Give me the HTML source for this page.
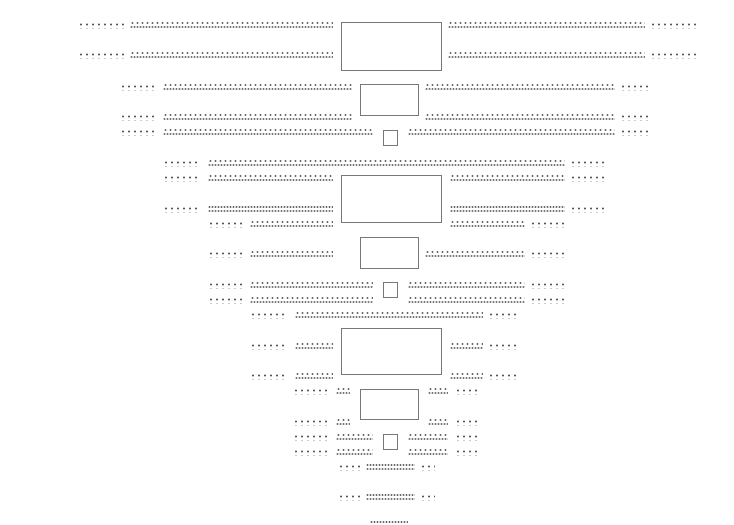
<!DOCTYPE html>
<html><head><meta charset="utf-8"><style>
html,body{margin:0;padding:0;background:#fff;width:734px;height:525px;overflow:hidden;position:relative;font-family:"Liberation Sans",sans-serif}
.c,.d,.e{position:absolute;height:7px}
.c{background:
 radial-gradient(circle,#555 0.9px,transparent 1.1px) 0 0/6px 5px repeat;}
.d{background:
 radial-gradient(circle,#666 0.8px,transparent 1px) 0 -1px/5px 4px repeat-x,
 radial-gradient(circle,#777 0.9px,transparent 1.1px) 0 3px/3px 4px repeat-x;}
.e{background:
 radial-gradient(circle,#666 0.8px,transparent 1px) 0 -1px/3px 4px repeat-x,
 radial-gradient(circle,#777 0.9px,transparent 1.1px) 0 3px/3px 4px repeat-x;}
.b{position:absolute;border:1px solid #777;box-sizing:border-box;background:#fff}
</style></head><body>
<script>
var rows=[
[22,[['c',78,125],['d',130,333],['d',448,645],['c',650,698]]],
[52,[['c',78,125],['d',130,333],['d',448,645],['c',650,698]]],
[84,[['c',120,155],['d',163,352],['d',425,615],['c',620,650]]],
[114,[['c',120,155],['d',163,352],['d',425,615],['c',620,650]]],
[129,[['c',120,155],['d',163,373],['d',408,615],['c',620,650]]],
[160,[['c',163,200],['d',208,565],['c',570,608]]],
[175,[['c',163,200],['d',208,333],['d',450,565],['c',570,608]]],
[206,[['c',163,200],['e',208,333],['e',450,565],['c',570,608]]],
[221,[['c',208,243],['d',250,333],['d',450,525],['c',530,565]]],
[251,[['c',208,243],['d',250,333],['d',425,525],['c',530,565]]],
[282,[['c',208,243],['d',250,373],['d',408,525],['c',530,565]]],
[297,[['c',208,243],['d',250,373],['d',408,525],['c',530,565]]],
[312,[['c',250,287],['d',295,483],['c',488,520]]],
[343,[['c',250,287],['d',295,333],['d',450,483],['c',488,520]]],
[373,[['c',250,287],['d',295,333],['d',450,483],['c',488,520]]],
[388,[['c',293,330],['d',336,350],['d',428,448],['c',455,478]]],
[419,[['c',293,330],['d',336,350],['d',428,448],['c',455,478]]],
[434,[['c',293,330],['d',336,373],['d',408,448],['c',455,478]]],
[449,[['c',293,330],['d',336,373],['d',408,448],['c',455,478]]],
[464,[['c',338,360],['e',366,415],['c',420,435]]],
[494,[['c',338,360],['e',366,415],['c',420,435]]],
[521,[['e',370,408]]]
];
var h='';
rows.forEach(function(r){r[1].forEach(function(s){h+='<div class="'+s[0]+'" style="left:'+s[1]+'px;top:'+r[0]+'px;width:'+(s[2]-s[1])+'px"></div>';});});
var boxes=[[341,22,101,49],[360,84,59,32],[383,130,15,16],[341,175,101,48],[360,237,59,32],[383,282,15,16],[341,328,101,47],[360,389,59,31],[383,434,15,16]];
boxes.forEach(function(b){h+='<div class="b" style="left:'+b[0]+'px;top:'+b[1]+'px;width:'+b[2]+'px;height:'+b[3]+'px"></div>';});
document.write(h);
</script>
</body></html>
